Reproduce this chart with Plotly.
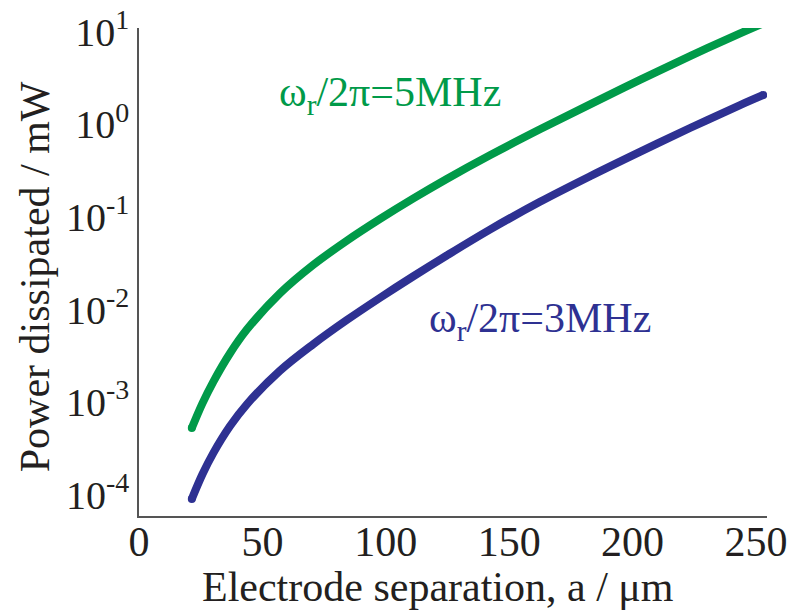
import plotly.graph_objects as go

# Electrode separation a (um)
sep = [21.4, 25.7, 30.1, 36.9, 43.7, 57.1, 70.6, 84.2, 97.7, 111.2, 124.7, 142.2,
       162.5, 182.8, 203.0, 223.3, 243.6, 253.0]
# Power dissipated (mW), omega_r/2pi = 5 MHz
power_5mhz = [5.24e-4, 9.68e-4, 1.656e-3, 3.37e-3, 6.07e-3, 1.493e-2, 3.03e-2, 5.53e-2,
              9.51e-2, 0.1585, 0.2570, 0.4634, 0.8831, 1.644, 3.013, 5.445, 9.594, 12.33]
# Power dissipated (mW), omega_r/2pi = 3 MHz
power_3mhz = [8.99e-5, 1.66e-4, 2.81e-4, 5.51e-4, 9.46e-4, 2.18e-3, 4.22e-3, 7.69e-3,
              1.340e-2, 2.286e-2, 3.828e-2, 7.29e-2, 0.1455, 0.2748, 0.5035, 0.912,
              1.611, 2.070]

x_ticks = [0, 50, 100, 150, 200, 250]
y_tickvals = [1e-4, 1e-3, 1e-2, 1e-1, 1e0, 1e1]
y_ticktext = ["10<sup>-4</sup>", "10<sup>-3</sup>", "10<sup>-2</sup>",
              "10<sup>-1</sup>", "10<sup>0</sup>", "10<sup>1</sup>"]

GREEN = "#009A49"
BLUE = "#2E3192"
INK = "#231F20"
FONT = "Liberation Serif"

fig = go.Figure()
for xs, ys, col in [(sep, power_5mhz, GREEN), (sep, power_3mhz, BLUE)]:
    fig.add_trace(go.Scatter(x=xs, y=ys, mode="lines",
                             line=dict(color=col, width=8, shape="spline", smoothing=1.0),
                             showlegend=False, hoverinfo="skip"))
    # rounded line ends
    fig.add_trace(go.Scatter(x=[xs[0], xs[-1]], y=[ys[0], ys[-1]], mode="markers",
                             marker=dict(color=col, size=8, line=dict(width=0)),
                             showlegend=False, hoverinfo="skip"))

fig.update_layout(
    width=795, height=611,
    margin=dict(l=139, r=28, t=28, b=95, autoexpand=False),
    paper_bgcolor="white", plot_bgcolor="white",
    font=dict(family=FONT, color=INK),
    xaxis=dict(range=[0, 254.5], tickvals=x_ticks, showgrid=False, zeroline=False,
               showline=True, linecolor="#555", linewidth=1.5, ticks="",
               automargin=False,
               tickfont=dict(size=42, family=FONT, color=INK),
               ticklabelstandoff=-12),
    yaxis=dict(type="log", range=[-4.23, 1.04], tickvals=y_tickvals, ticktext=y_ticktext,
               showgrid=False, zeroline=False, showline=True, linecolor="#555",
               linewidth=1.5, ticks="", automargin=False,
               tickfont=dict(size=40, family=FONT, color=INK),
               ticklabelstandoff=0),
    annotations=[
        dict(text="Electrode separation, a / μm", xref="paper", yref="paper",
             x=0.476, y=-0.145, xanchor="center", yanchor="middle", showarrow=False,
             font=dict(size=42, family=FONT, color=INK)),
        dict(text="Power dissipated / mW", xref="paper", yref="paper",
             x=-0.165, y=0.49, xanchor="center", yanchor="middle", textangle=-90,
             showarrow=False, font=dict(size=42, family=FONT, color=INK)),
        dict(text="ω<sub>r</sub>/2π=5MHz", xref="paper", yref="paper",
             x=0.22, y=0.863, xanchor="left", yanchor="middle", showarrow=False,
             font=dict(size=42, family=FONT, color=GREEN)),
        dict(text="ω<sub>r</sub>/2π=3MHz", xref="paper", yref="paper",
             x=0.459, y=0.40, xanchor="left", yanchor="middle", showarrow=False,
             font=dict(size=42, family=FONT, color=BLUE)),
    ],
)

fig.write_html("out.html",
               config={"displayModeBar": False},
               post_script="document.body.style.margin='0';"
                           "document.body.style.overflow='hidden';")
